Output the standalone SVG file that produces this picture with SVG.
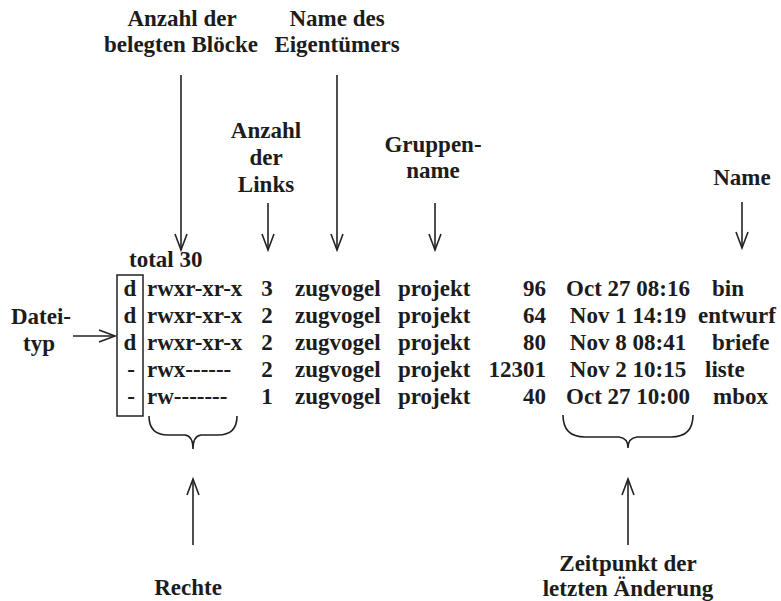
<svg xmlns="http://www.w3.org/2000/svg" width="781" height="601" viewBox="0 0 781 601">
  <style>
    text { font-weight: bold; font-size: 23px; fill: #1c1c1c; }
    .c { text-anchor: middle; }
    .r { text-anchor: end; }
    .line { stroke: #222; stroke-width: 1.6; fill: none; }
  </style>
  <defs>
    <marker id="vhead" markerUnits="userSpaceOnUse" orient="auto" refX="0" refY="0" markerWidth="30" markerHeight="30" viewBox="-20 -10 30 20" overflow="visible">
      <path d="M-16,-6 L0,0 L-16,6" fill="none" stroke="#222" stroke-width="1.6"/>
    </marker>
  </defs>
  <rect width="781" height="601" fill="#ffffff"/>

  <g font-family="'Liberation Serif', 'DejaVu Serif', serif">
  <!-- labels above the listing -->
  <g id="label-blocks">
    <text x="182" y="26" class="c">Anzahl der</text>
    <text x="181" y="52" class="c">belegten Blöcke</text>
  </g>
  <g id="label-owner">
    <text x="337" y="26" class="c">Name des</text>
    <text x="337" y="52" class="c">Eigentümers</text>
  </g>
  <g id="label-links">
    <text x="266" y="138" class="c">Anzahl</text>
    <text x="266" y="165" class="c">der</text>
    <text x="266" y="192" class="c">Links</text>
  </g>
  <g id="label-group">
    <text x="433" y="152" class="c">Gruppen-</text>
    <text x="433" y="178" class="c">name</text>
  </g>
  <g id="label-name">
    <text x="742" y="185" class="c">Name</text>
  </g>
  <g id="label-type">
    <text x="41" y="324" class="c">Datei-</text>
    <text x="39" y="351" class="c">typ</text>
  </g>

  <!-- the directory listing -->
  <g id="listing">
    <text x="129" y="267">total 30</text>
    <rect x="117" y="275" width="26" height="141" fill="none" stroke="#222" stroke-width="1.5"/>

    <text x="130" y="296" class="c">d</text>
    <text x="147" y="296">rwxr-xr-x</text>
    <text x="267" y="296" class="c">3</text>
    <text x="295" y="296">zugvogel</text>
    <text x="398" y="296">projekt</text>
    <text x="546" y="296" class="r">96</text>
    <text x="628" y="296" class="c">Oct 27 08:16</text>
    <text x="712" y="296">bin</text>

    <text x="130" y="323" class="c">d</text>
    <text x="147" y="323">rwxr-xr-x</text>
    <text x="267" y="323" class="c">2</text>
    <text x="295" y="323">zugvogel</text>
    <text x="398" y="323">projekt</text>
    <text x="546" y="323" class="r">64</text>
    <text x="628" y="323" class="c">Nov 1 14:19</text>
    <text x="698" y="323">entwurf</text>

    <text x="130" y="350" class="c">d</text>
    <text x="147" y="350">rwxr-xr-x</text>
    <text x="267" y="350" class="c">2</text>
    <text x="295" y="350">zugvogel</text>
    <text x="398" y="350">projekt</text>
    <text x="546" y="350" class="r">80</text>
    <text x="628" y="350" class="c">Nov 8 08:41</text>
    <text x="712" y="350">briefe</text>

    <text x="131" y="377" class="c">-</text>
    <text x="147" y="377">rwx------</text>
    <text x="267" y="377" class="c">2</text>
    <text x="295" y="377">zugvogel</text>
    <text x="398" y="377">projekt</text>
    <text x="546" y="377" class="r">12301</text>
    <text x="628" y="377" class="c">Nov 2 10:15</text>
    <text x="705" y="377">liste</text>

    <text x="131" y="404" class="c">-</text>
    <text x="147" y="404">rw-------</text>
    <text x="267" y="404" class="c">1</text>
    <text x="295" y="404">zugvogel</text>
    <text x="398" y="404">projekt</text>
    <text x="546" y="404" class="r">40</text>
    <text x="628" y="404" class="c">Oct 27 10:00</text>
    <text x="713" y="404">mbox</text>
  </g>

  <!-- labels below the listing -->
  <g id="label-rights">
    <text x="188" y="595" class="c">Rechte</text>
  </g>
  <g id="label-time">
    <text x="628" y="571" class="c">Zeitpunkt der</text>
    <text x="628" y="596" class="c">letzten Änderung</text>
  </g>
  </g>

  <!-- connectors: arrows and braces -->
  <g id="connectors">
    <line class="line" x1="181" y1="75" x2="181" y2="250" marker-end="url(#vhead)"/>
    <line class="line" x1="337" y1="75" x2="337" y2="250" marker-end="url(#vhead)"/>
    <line class="line" x1="268" y1="203" x2="268" y2="250" marker-end="url(#vhead)"/>
    <line class="line" x1="435" y1="203" x2="435" y2="250" marker-end="url(#vhead)"/>
    <line class="line" x1="742" y1="202" x2="742" y2="248" marker-end="url(#vhead)"/>
    <line class="line" x1="73" y1="336" x2="115" y2="336" marker-end="url(#vhead)"/>
    <line class="line" x1="193" y1="545" x2="193" y2="479" marker-end="url(#vhead)"/>
    <line class="line" x1="628" y1="545" x2="628" y2="479" marker-end="url(#vhead)"/>
    <path class="line" d="M149,416 Q149,435 168,435 L185,435 Q193,436 193,449 Q193,436 201,435 L218,435 Q237,435 237,416"/>
    <path class="line" d="M563,415 Q563,437 585,437 L619,437 Q628,438 628,448 Q628,438 637,437 L671,437 Q693,437 693,415"/>
  </g>
</svg>
